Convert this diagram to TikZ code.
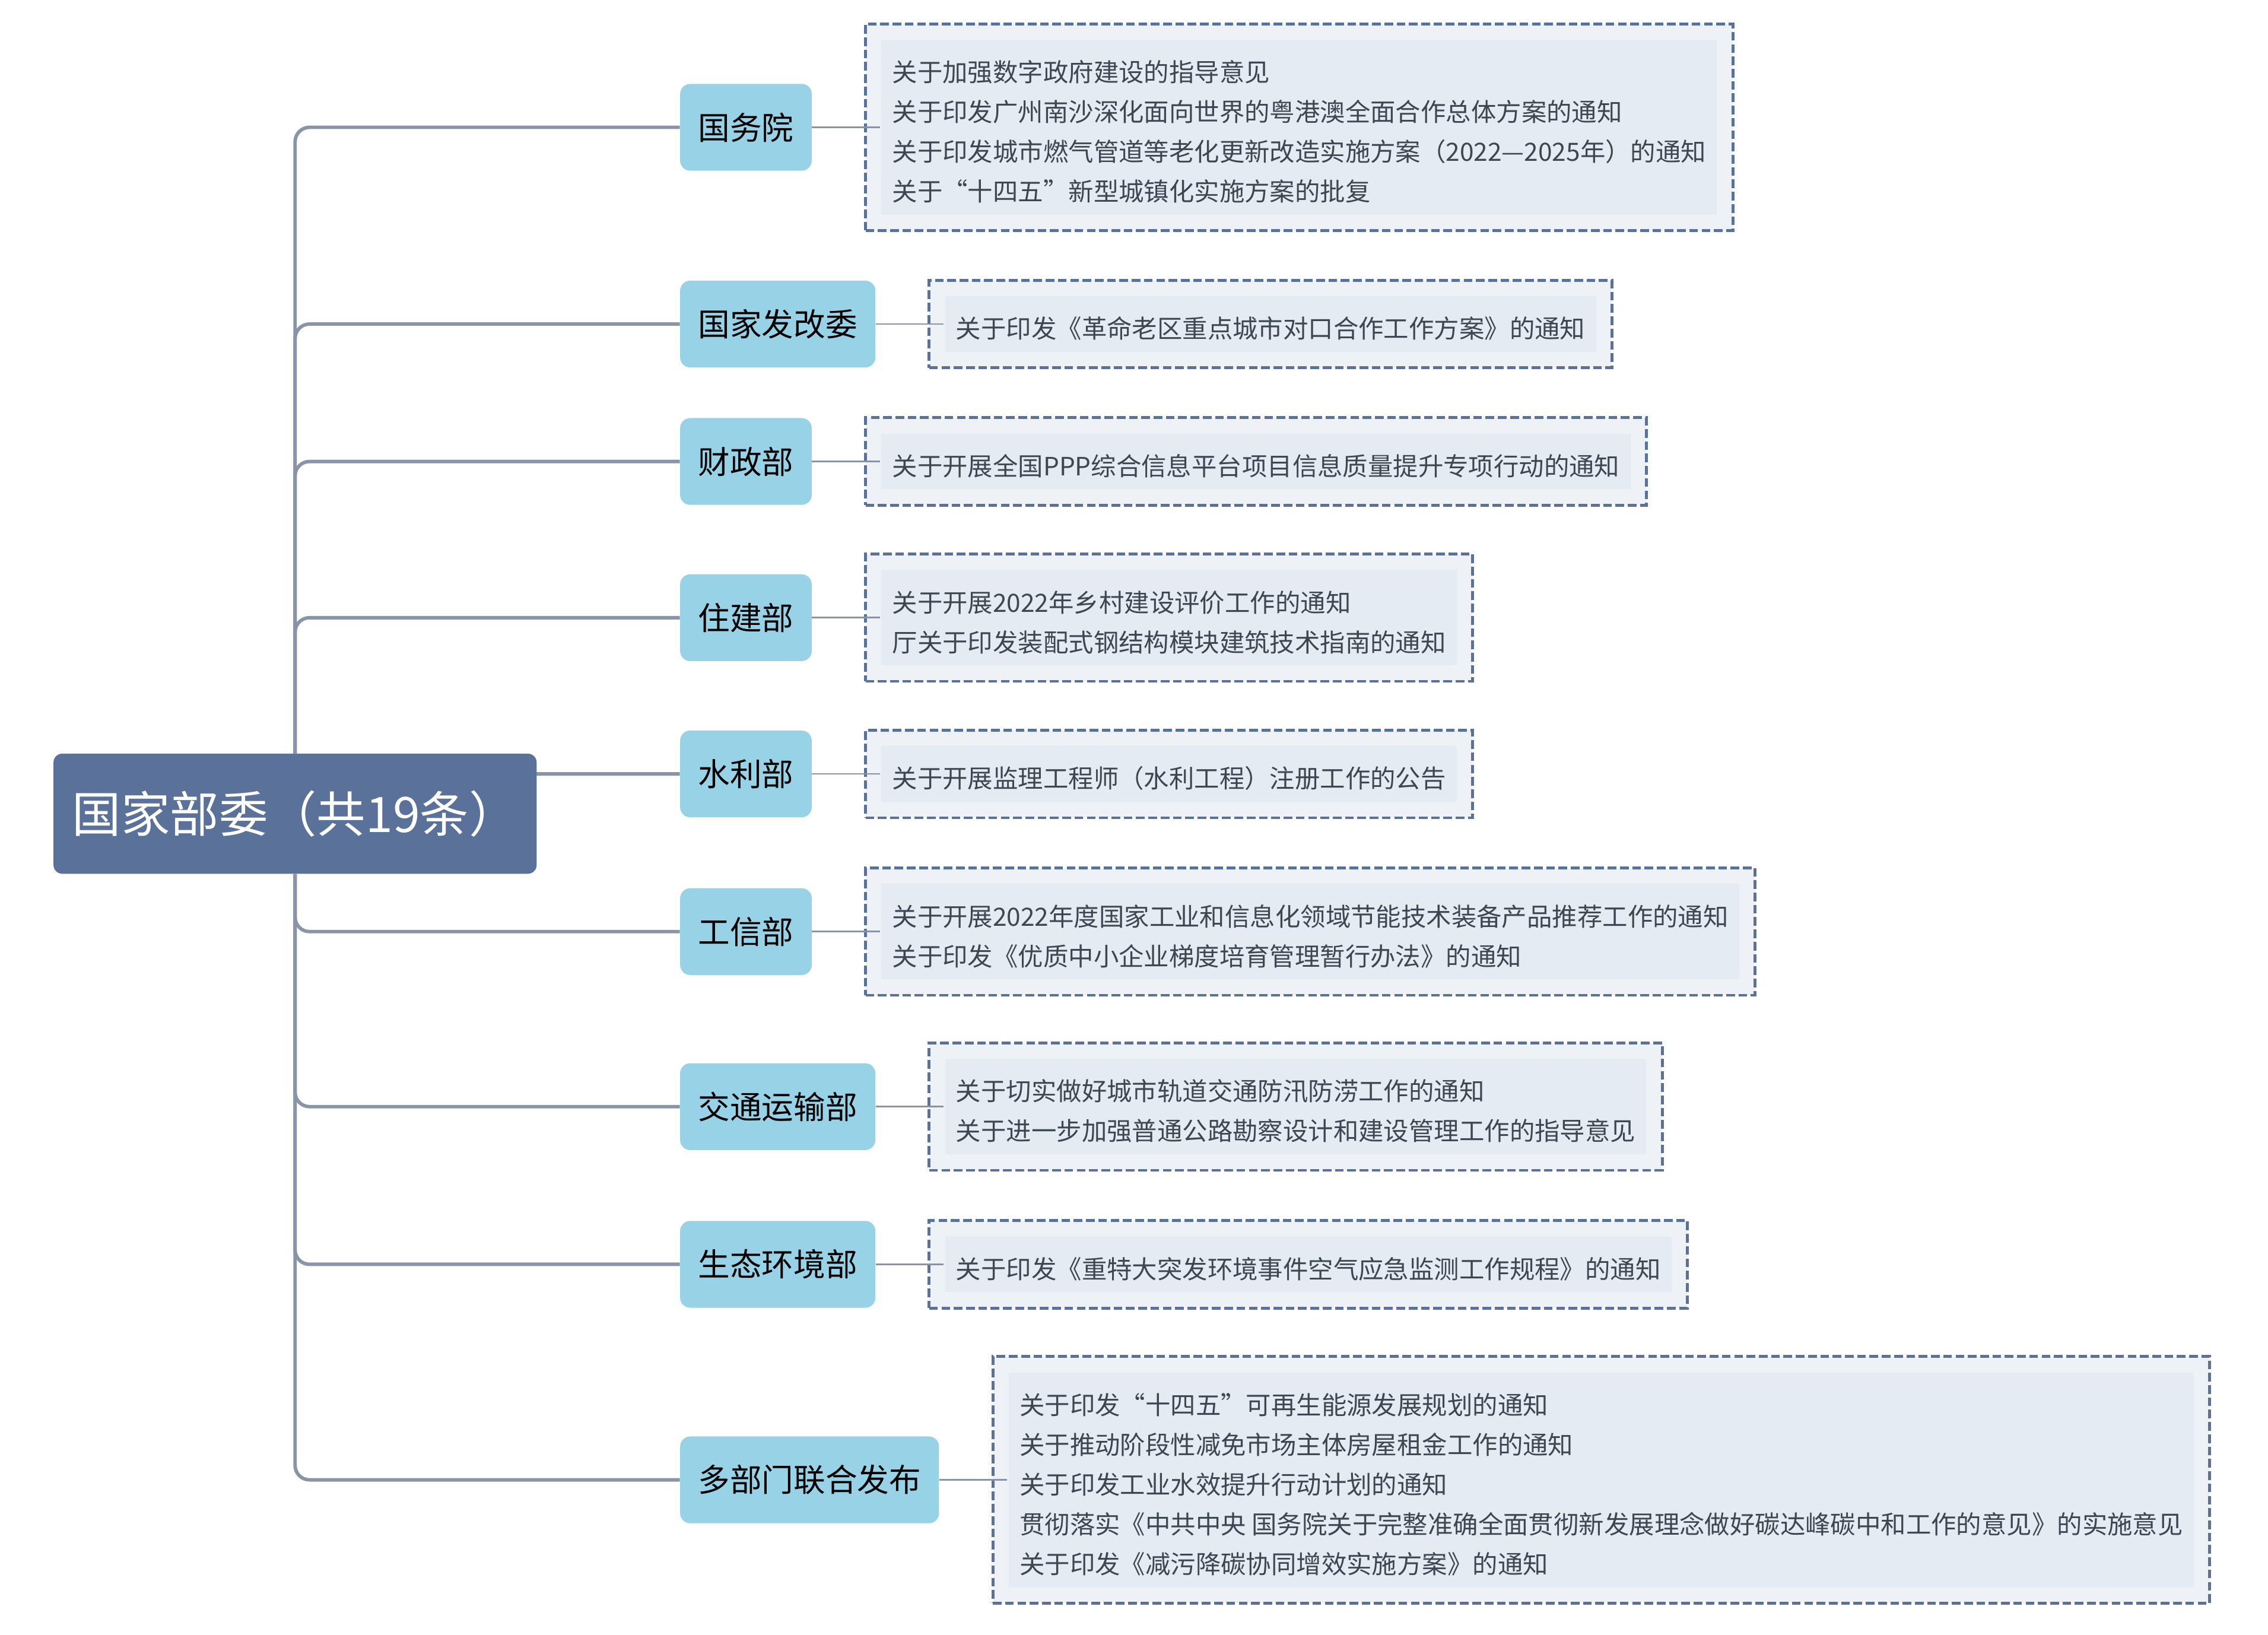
\documentclass[tikz,border=0pt]{standalone}
\usepackage{fontspec}
\setmainfont{Noto Sans CJK SC}
\usepackage{tikz}
\usetikzlibrary{positioning,backgrounds}

\definecolor{rootblue}{HTML}{5A7299}
\definecolor{branchblue}{HTML}{97D2E6}
\definecolor{stemgray}{HTML}{8A94A8}
\definecolor{leafout}{HTML}{EEF1F6}
\definecolor{leafin}{HTML}{E4EBF3}
\definecolor{leaftext}{HTML}{3E4652}

% lowers the first line of a leaf a little
\newcommand{\leafstrut}{\rule{0pt}{21pt}}

\begin{document}
\begin{tikzpicture}[
        x=1pt, y=-1pt,
        root/.style={
            rectangle,
            rounded corners=6pt,
            fill=rootblue,
            text=white,
            minimum width=334pt,
            minimum height=83pt,
            font=\fontsize{33.8}{40}\selectfont
        },
        branch/.style={
            rectangle,
            rounded corners=7pt,
            fill=branchblue,
            text=black,
            anchor=west,
            inner xsep=12.5pt,
            minimum height=60pt,
            font=\fontsize{22}{26}\selectfont
        },
        leaf/.style={
            draw=rootblue,
            line width=2pt,
            dash pattern=on 6pt off 2.5pt,
            fill=leafout,
            align=left,
            inner xsep=18.5pt,
            inner ysep=19pt,
            text=leaftext,
            font=\fontsize{17.4}{27.5}\selectfont,
            path picture={
                \fill[leafin] ([shift={(11pt,-11pt)}]path picture bounding box.north west)
                    rectangle ([shift={(-11pt,11pt)}]path picture bounding box.south east);
            }
        },
        stem/.style={
            draw=stemgray,
            line width=2.4pt,
            rounded corners=10pt
        },
        twig/.style={
            draw=stemgray,
            line width=1.1pt
        }
    ]
        \useasboundingbox (0,0) rectangle (1568,1130);

        \node (root) [root] at (204,562.5) {国家部委（共19条）};

        \node (gwy) [branch] at (470,88) {国务院};
        \node (fgw) [branch] at (470,224) {国家发改委};
        \node (czb) [branch] at (470,319) {财政部};
        \node (zjb) [branch] at (470,427) {住建部};
        \node (slb) [branch] at (470,535) {水利部};
        \node (gxb) [branch] at (470,644) {工信部};
        \node (jtb) [branch] at (470,765) {交通运输部};
        \node (hjb) [branch] at (470,874) {生态环境部};
        \node (dbm) [branch] at (470,1023) {多部门联合发布};

        \node (gwyl) [leaf, right=36pt of gwy] {\leafstrut 关于加强数字政府建设的指导意见\\关于印发广州南沙深化面向世界的粤港澳全面合作总体方案的通知\\关于印发城市燃气管道等老化更新改造实施方案（2022—2025年）的通知\\关于“十四五”新型城镇化实施方案的批复};
        \node (fgwl) [leaf, right=36pt of fgw] {\leafstrut 关于印发《革命老区重点城市对口合作工作方案》的通知};
        \node (czbl) [leaf, right=36pt of czb] {\leafstrut 关于开展全国PPP综合信息平台项目信息质量提升专项行动的通知};
        \node (zjbl) [leaf, right=36pt of zjb] {\leafstrut 关于开展2022年乡村建设评价工作的通知\\厅关于印发装配式钢结构模块建筑技术指南的通知};
        \node (slbl) [leaf, right=36pt of slb] {\leafstrut 关于开展监理工程师（水利工程）注册工作的公告};
        \node (gxbl) [leaf, right=36pt of gxb] {\leafstrut 关于开展2022年度国家工业和信息化领域节能技术装备产品推荐工作的通知\\关于印发《优质中小企业梯度培育管理暂行办法》的通知};
        \node (jtbl) [leaf, right=36pt of jtb] {\leafstrut 关于切实做好城市轨道交通防汛防涝工作的通知\\关于进一步加强普通公路勘察设计和建设管理工作的指导意见};
        \node (hjbl) [leaf, right=36pt of hjb] {\leafstrut 关于印发《重特大突发环境事件空气应急监测工作规程》的通知};
        \node (dbml) [leaf, right=36pt of dbm] {\leafstrut 关于印发“十四五”可再生能源发展规划的通知\\关于推动阶段性减免市场主体房屋租金工作的通知\\关于印发工业水效提升行动计划的通知\\贯彻落实《中共中央 国务院关于完整准确全面贯彻新发展理念做好碳达峰碳中和工作的意见》的实施意见\\关于印发《减污降碳协同增效实施方案》的通知};

        % trunk and branches behind the root box
        \begin{scope}[on background layer]
            \draw[stem] (root) |- (gwy);
            \draw[stem] (root) |- (fgw);
            \draw[stem] (root) |- (czb);
            \draw[stem] (root) |- (zjb);
            \draw[stem] (root) |- (slb);
            \draw[stem] (root) |- (gxb);
            \draw[stem] (root) |- (jtb);
            \draw[stem] (root) |- (hjb);
            \draw[stem] (root) |- (dbm);
        \end{scope}

        \draw[twig] (gwy) -- ([xshift=11pt]gwyl.west);
        \draw[twig] (fgw) -- ([xshift=11pt]fgwl.west);
        \draw[twig] (czb) -- ([xshift=11pt]czbl.west);
        \draw[twig] (zjb) -- ([xshift=11pt]zjbl.west);
        \draw[twig] (slb) -- ([xshift=11pt]slbl.west);
        \draw[twig] (gxb) -- ([xshift=11pt]gxbl.west);
        \draw[twig] (jtb) -- ([xshift=11pt]jtbl.west);
        \draw[twig] (hjb) -- ([xshift=11pt]hjbl.west);
        \draw[twig] (dbm) -- ([xshift=11pt]dbml.west);
    \end{tikzpicture}
\end{document}
